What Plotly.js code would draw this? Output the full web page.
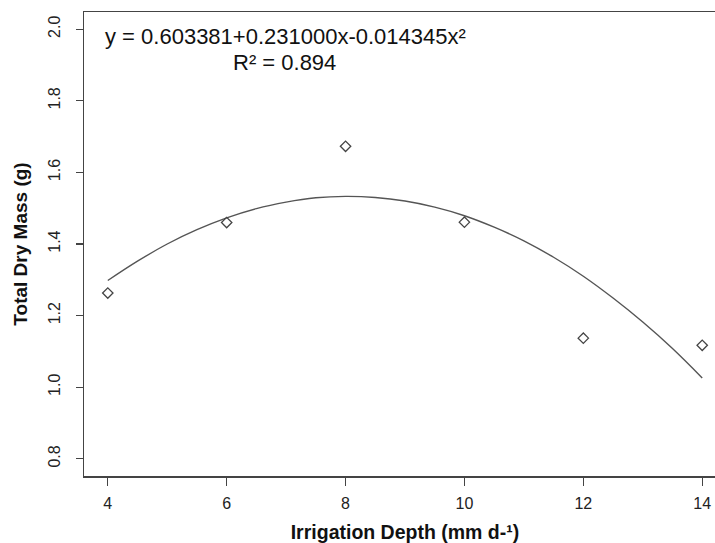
<!DOCTYPE html>
<html>
<head>
<meta charset="utf-8">
<script src="https://cdn.plot.ly/plotly-3.0.1.min.js"></script>
<style>html,body{margin:0;padding:0;background:#fff;overflow:hidden;}#chart{width:726px;height:543px;}</style>
</head>
<body>
<div id="chart"></div>
<script>
// Observed points
const depth = [4, 6, 8, 10, 12, 14];
const dryMass = [1.263, 1.460, 1.673, 1.461, 1.137, 1.117];

// Fitted curve
const curveX = [4, 4.5, 5, 5.5, 6, 6.5, 7, 7.5, 8, 8.5, 9, 9.5, 10, 10.5, 11, 11.5, 12, 12.5, 13, 13.5, 14];
const curveY = [1.298, 1.352, 1.400, 1.440, 1.473, 1.499, 1.517, 1.529, 1.533, 1.530, 1.520, 1.503, 1.479, 1.447, 1.409, 1.363, 1.310, 1.249, 1.182, 1.108, 1.026];

const xTicks = [4, 6, 8, 10, 12, 14];
const yTicks = [0.8, 1.0, 1.2, 1.4, 1.6, 1.8, 2.0];
const yTickText = ["0.8", "1.0", "1.2", "1.4", "1.6", "1.8", "2.0"];

const equationText = "y = 0.603381+0.231000x-0.014345x²";
const r2Text = "R² = 0.894";

const FONT = "Liberation Sans, Arial, Helvetica, sans-serif";

const traces = [
  {
    x: curveX, y: curveY, type: "scatter", mode: "lines",
    line: {color: "#555555", width: 1.4, shape: "spline"},
    hoverinfo: "skip", showlegend: false
  },
  {
    x: depth, y: dryMass, type: "scatter", mode: "markers",
    marker: {symbol: "diamond-open", size: 8, color: "#444444", line: {width: 1.3, color: "#444444"}},
    showlegend: false
  }
];

const layout = {
  width: 726, height: 543,
  margin: {l: 84, r: 0, t: 12, b: 67, pad: 0},
  paper_bgcolor: "#ffffff", plot_bgcolor: "#ffffff",
  font: {family: FONT, color: "#222222"},
  showlegend: false,
  xaxis: {
    range: [3.6, 14.4], autorange: false,
    tickvals: xTicks, ticktext: xTicks.map(String),
    ticks: "outside", ticklen: 8, tickwidth: 1.3, tickcolor: "#444444",
    showline: true, linecolor: "#444444", linewidth: 1.5, mirror: true,
    showgrid: false, zeroline: false,
    tickfont: {family: FONT, size: 16, color: "#222222"},
    ticklabelstandoff: 4,
    title: {text: "Irrigation Depth (mm d-¹)", font: {family: FONT, size: 19.5, color: "#111111", weight: "bold"}, standoff: 15},
    automargin: false
  },
  yaxis: {
    range: [0.752, 2.048], autorange: false,
    tickvals: yTicks, ticktext: yTickText, tickangle: -90,
    ticks: "outside", ticklen: 7, tickwidth: 1.3, tickcolor: "#444444",
    showline: true, linecolor: "#444444", linewidth: 1.5, mirror: false,
    showgrid: false, zeroline: false,
    tickfont: {family: FONT, size: 16, color: "#222222"},
    ticklabelstandoff: 9,
    title: {text: "Total Dry Mass (g)", font: {family: FONT, size: 19, color: "#111111", weight: "bold"}, standoff: 13},
    automargin: false
  },
  annotations: [
    {text: equationText, xref: "paper", yref: "paper", x: 0.314, y: 0.948,
     xanchor: "center", yanchor: "middle", showarrow: false,
     font: {family: FONT, size: 22, color: "#111111"}},
    {text: r2Text, xref: "paper", yref: "paper", x: 0.313, y: 0.892,
     xanchor: "center", yanchor: "middle", showarrow: false,
     font: {family: FONT, size: 22, color: "#111111"}}
  ]
};

Plotly.newPlot("chart", traces, layout, {displayModeBar: false, staticPlot: true});
</script>
</body>
</html>
